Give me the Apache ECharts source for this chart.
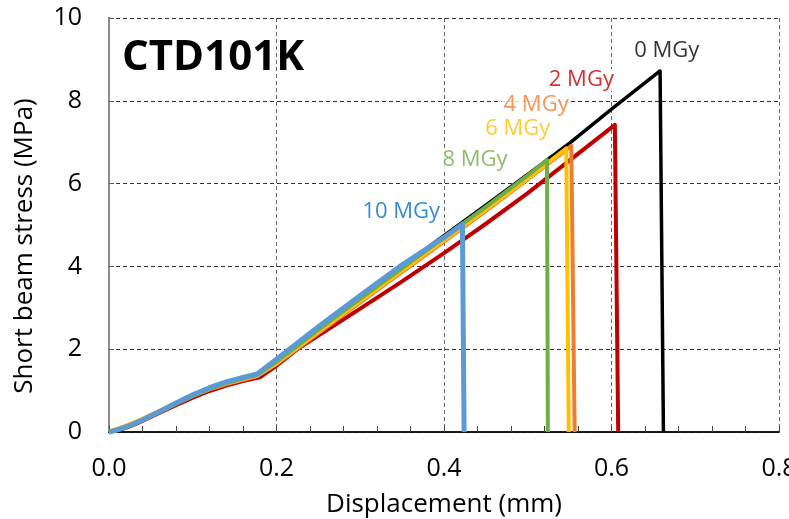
<!DOCTYPE html>
<html>
<head>
<meta http-equiv="Content-Type" content="text/html; charset=utf-8" />
<title>CTD101K short beam</title>
<script type="text/javascript" src="https://cdn.jsdelivr.net/npm/echarts@6/dist/echarts.min.js"></script>
<style>
	html, body { margin: 0; padding: 0; background: #fff; }
	#main { width: 789px; height: 519px; }
</style>
</head>
<body>
<div id="main"></div>
<script type="text/javascript">
	// 剂量名称和颜色
	var doseNames = ['0 MGy', '2 MGy', '4 MGy', '6 MGy', '8 MGy', '10 MGy'];
	var lineColors = ['#000000', '#C00000', '#ED7D31', '#FFC000', '#70AD47', '#5B9BD5'];
	var textColors = ['#000000', '#C00000', '#ED7D31', '#FFC000', '#70AD47', '#0070C0'];
	var lineWidths = [3.5, 4, 4, 4, 4, 5];

	// 曲线数据 [位移 mm, 应力 MPa]
	var dose0 = [[0,0],[0.01,0.05],[0.02,0.12],[0.03,0.2],[0.04,0.29],[0.06,0.49],[0.08,0.69],[0.1,0.88],[0.12,1.05],[0.14,1.19],[0.16,1.3],[0.177,1.39],[0.2,1.73],[0.25,2.5],[0.3,3.25],[0.35,4.0],[0.4,4.74],[0.45,5.48],[0.5,6.22],[0.55,6.98],[0.6,7.8],[0.658,8.72],[0.662,0]];
	var dose2 = [[0,0],[0.01,0.04],[0.02,0.1],[0.03,0.18],[0.04,0.27],[0.06,0.46],[0.08,0.65],[0.1,0.83],[0.12,0.99],[0.14,1.12],[0.16,1.23],[0.18,1.32],[0.2,1.6],[0.225,2.0],[0.25,2.33],[0.3,2.98],[0.35,3.64],[0.4,4.32],[0.45,5.03],[0.5,5.77],[0.55,6.56],[0.604,7.42],[0.608,0]];
	var dose4 = [[0,0],[0.01,0.07],[0.02,0.14],[0.03,0.22],[0.04,0.31],[0.06,0.5],[0.08,0.69],[0.1,0.87],[0.12,1.03],[0.14,1.16],[0.16,1.26],[0.177,1.35],[0.2,1.64],[0.25,2.39],[0.3,3.13],[0.35,3.87],[0.4,4.6],[0.45,5.34],[0.5,6.1],[0.552,6.91],[0.556,0]];
	var dose6 = [[0,0],[0.01,0.08],[0.02,0.15],[0.03,0.23],[0.04,0.32],[0.06,0.51],[0.08,0.7],[0.1,0.88],[0.12,1.04],[0.14,1.17],[0.16,1.27],[0.177,1.36],[0.2,1.66],[0.25,2.42],[0.3,3.16],[0.35,3.9],[0.4,4.63],[0.45,5.37],[0.5,6.12],[0.546,6.85],[0.549,0]];
	var dose8 = [[0,0],[0.01,0.05],[0.02,0.12],[0.03,0.2],[0.04,0.29],[0.06,0.48],[0.08,0.68],[0.1,0.87],[0.12,1.04],[0.14,1.18],[0.16,1.29],[0.177,1.38],[0.2,1.7],[0.25,2.47],[0.3,3.22],[0.35,3.96],[0.4,4.7],[0.45,5.44],[0.5,6.2],[0.523,6.57],[0.524,0]];
	var dose10 = [[0,0],[0.01,0.05],[0.02,0.12],[0.03,0.2],[0.04,0.29],[0.06,0.49],[0.08,0.7],[0.1,0.9],[0.12,1.07],[0.14,1.21],[0.16,1.32],[0.177,1.4],[0.2,1.76],[0.25,2.54],[0.3,3.3],[0.35,4.04],[0.4,4.7],[0.422,5.02],[0.424,0]];
	var allData = [dose0, dose2, dose4, dose6, dose8, dose10];

	// 曲线旁边的标注位置（数据坐标）
	var labelX = [0.666, 0.564, 0.510, 0.488, 0.437, 0.349];
	var labelY = [9.20, 8.50, 7.90, 7.32, 6.57, 5.31];

	var fontName = 'Open Sans';
	var chart = echarts.init(document.getElementById('main'));

	var series = [];
	for (var i = 0; i < allData.length; i++) {
		series.push({
			name: doseNames[i],
			type: 'line',
			data: allData[i],
			showSymbol: false,
			symbol: 'none',
			lineStyle: { color: lineColors[i], width: lineWidths[i], join: 'round' },
			z: 2 + i
		});
	}
	var labelData = [];
	for (var j = 0; j < doseNames.length; j++) {
		labelData.push({
			value: [labelX[j], labelY[j]],
			name: doseNames[j],
			label: { color: textColors[j] }
		});
	}
	series.push({
		type: 'scatter',
		symbolSize: 0,
		data: labelData,
		z: 20,
		label: {
			show: true,
			position: 'inside',
			formatter: '{b}',
			fontFamily: fontName,
			fontSize: 22,
			backgroundColor: '#ffffff',
			padding: [0, 2]
		}
	});

	var option = {
		animation: false,
		backgroundColor: '#ffffff',
		title: {
			text: 'CTD101K',
			left: 122,
			top: 37,
			padding: 0,
			textStyle: { fontFamily: fontName, fontWeight: 'bold', fontSize: 42, color: '#000' }
		},
		grid: { left: 109, top: 18, width: 670, height: 414, outerBoundsMode: 'none' },
		xAxis: [{
			type: 'value',
			min: 0,
			max: 0.8,
			interval: 0.2,
			name: 'Displacement (mm)',
			nameLocation: 'middle',
			nameGap: 60,
			nameTextStyle: { fontFamily: fontName, fontSize: 26, color: '#000' },
			axisLine: { lineStyle: { color: '#404040', width: 1.5 } },
			axisTick: { inside: true, length: 6, lineStyle: { color: '#404040' } },
			minorTick: { show: true, splitNumber: 5, length: 6, lineStyle: { color: '#404040' } },
			axisLabel: {
				fontFamily: fontName, fontSize: 25, color: '#000', margin: 24,
				formatter: function (v) { return v.toFixed(1); }
			},
			splitLine: { lineStyle: { type: [4, 3], color: '#666666', width: 1 } }
		}, {
			type: 'value',
			position: 'top',
			min: 0,
			max: 0.8,
			axisLine: { show: true, lineStyle: { color: '#000', width: 1.5 } },
			axisTick: { show: false },
			axisLabel: { show: false },
			splitLine: { show: false }
		}],
		yAxis: [{
			type: 'value',
			min: 0,
			max: 10,
			interval: 2,
			name: 'Short beam stress (MPa)',
			nameLocation: 'middle',
			nameGap: 71,
			nameTextStyle: { fontFamily: fontName, fontSize: 26, color: '#000', padding: [0, 42, 0, 0] },
			axisLine: { show: true, lineStyle: { color: '#595959', width: 2 } },
			axisTick: { show: true, inside: true, length: 5, lineStyle: { color: '#595959' } },
			axisLabel: { fontFamily: fontName, fontSize: 25, color: '#000', margin: 27 },
			splitLine: { lineStyle: { type: [4, 3], color: '#333333', width: 1 } }
		}, {
			type: 'value',
			position: 'right',
			min: 0,
			max: 10,
			axisLine: { show: true, lineStyle: { color: '#8c8c8c', width: 2 } },
			axisTick: { show: false },
			axisLabel: { show: false },
			splitLine: { show: false }
		}],
		series: series
	};
	chart.setOption(option);
</script>
</body>
</html>
